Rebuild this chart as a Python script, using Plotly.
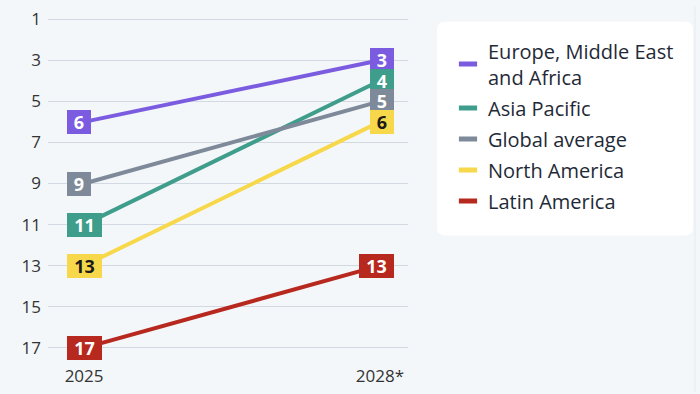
import plotly.graph_objects as go

categories = ["2025", "2028*"]
series_names = ["Europe, Middle East<br>and Africa", "Asia Pacific", "Global average", "North America", "Latin America"]
values_2025 = [6, 11, 9, 13, 17]
values_2028 = [3, 4, 5, 6, 13]
colors = ["#7b5ce0", "#3f9d8b", "#7e8a99", "#f6d84a", "#b7281f"]
label_text_colors = ["#ffffff", "#ffffff", "#ffffff", "#1a1a1a", "#ffffff"]
y_ticks = [1, 3, 5, 7, 9, 11, 13, 15, 17]

FONT = "Open Sans"
W, H = 700, 394
ML, MR, MT, MB = 48, 292, 7, 39
fig = go.Figure()

for name, a, b, c in zip(series_names, values_2025, values_2028, colors):
    fig.add_trace(go.Scatter(
        x=categories, y=[a, b], mode="lines", name=name,
        line=dict(color=c, width=4), cliponaxis=False,
        hoverinfo="skip", showlegend=False,
    ))

# legend-only entries with short line symbols
for i, (name, c) in enumerate(zip(series_names, colors)):
    fig.add_trace(go.Scatter(
        x=[None], y=[None], mode="markers", name=name, legendgroup=f"g{i}",
        marker=dict(symbol="line-ew", size=13, line=dict(color=c, width=5)),
        showlegend=True,
    ))

annotations = []
for xi, vals in enumerate((values_2025, values_2028)):
    for v, c, tc in zip(vals, colors, label_text_colors):
        txt = str(v)
        annotations.append(dict(
            x=xi, y=v, xref="x", yref="y", text=f"<b>{txt}</b>",
            showarrow=False, bgcolor=c, bordercolor=c, borderwidth=1, borderpad=2,
            font=dict(family=FONT, size=18, color=tc),
            width=18 if len(txt) == 1 else 29, height=18, align="center",
            xanchor="left" if xi == 0 else "right",
            xshift=-17 if xi == 0 else 14,
        ))

pw = W - ML - MR
ph = H - MT - MB
def px_x(p):
    return (p - ML) / pw
def px_y(p):
    return (H - MB - p) / ph

# legend background (rounded rectangle, paper coords)
x0, x1, y0, y1 = px_x(437), px_x(693), px_y(234), px_y(16)
rx, ry = 8 / pw, 8 / ph
path = (f"M {x0+rx},{y1} L {x1-rx},{y1} Q {x1},{y1} {x1},{y1-ry} "
        f"L {x1},{y0+ry} Q {x1},{y0} {x1-rx},{y0} L {x0+rx},{y0} "
        f"Q {x0},{y0} {x0},{y0+ry} L {x0},{y1-ry} Q {x0},{y1} {x0+rx},{y1} Z")

fig.update_layout(
    width=W, height=H,
    margin=dict(l=ML, r=MR, t=MT, b=MB),
    paper_bgcolor="#f4f7fa", plot_bgcolor="#f4f7fa",
    font=dict(family=FONT, color="#333333"),
    showlegend=True,
    legend=dict(
        x=px_x(448), y=px_y(26), xanchor="left", yanchor="top",
        bgcolor="rgba(0,0,0,0)", font=dict(family=FONT, size=20, color="#1f2a37"),
        traceorder="grouped", itemwidth=30, tracegroupgap=2,
    ),
    shapes=[
        dict(type="path", xref="paper", yref="paper", path=path,
             fillcolor="#ffffff", line=dict(width=0), layer="below"),
        dict(type="line", xref="paper", yref="paper", x0=px_x(695), x1=px_x(695),
             y0=px_y(394), y1=px_y(0), line=dict(color="#e6eaef", width=1), layer="below"),
    ],
    annotations=annotations,
    xaxis=dict(
        type="category", range=[-0.122, 1.095], showgrid=False, zeroline=False,
        showline=False, ticks="", tickfont=dict(family=FONT, size=17, color="#333333"),
        ticklabelstandoff=10, fixedrange=True,
    ),
    yaxis=dict(
        range=[17.3, 0.7], tickvals=y_ticks, showgrid=True, gridcolor="#d3d9e0",
        gridwidth=1, zeroline=False, showline=False, ticks="",
        tickfont=dict(family=FONT, size=17, color="#333333"), ticklabelstandoff=6,
        fixedrange=True,
    ),
)

fig.write_html("out.html", config={"displayModeBar": False},
               post_script="document.body.style.margin='0';document.body.style.overflow='hidden';")
